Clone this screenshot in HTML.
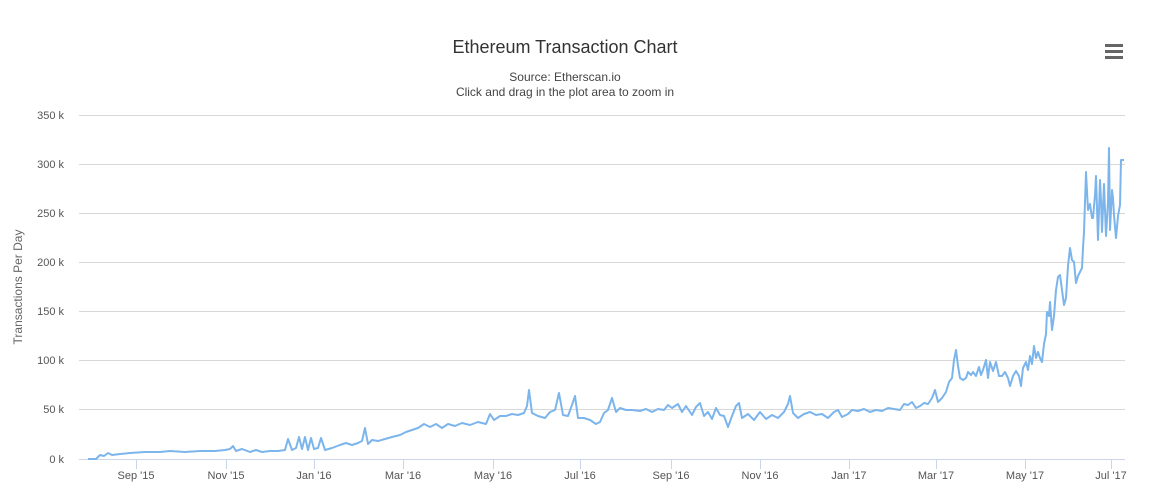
<!DOCTYPE html>
<html><head><style>
body{margin:0;background:#fff;font-family:"Liberation Sans",sans-serif;}
</style></head><body>
<svg width="1159" height="499" xmlns="http://www.w3.org/2000/svg" font-family="Liberation Sans, sans-serif">
<rect width="1159" height="499" fill="#fff"/>
<text x="565" y="53" text-anchor="middle" font-size="18" fill="#333">Ethereum Transaction Chart</text>
<text x="565" y="81" text-anchor="middle" font-size="12" fill="#444">Source: Etherscan.io</text>
<text x="565" y="96" text-anchor="middle" font-size="12" fill="#444">Click and drag in the plot area to zoom in</text>
<g fill="#666"><rect x="1105" y="44" width="18" height="3"/><rect x="1105" y="50" width="18" height="3"/><rect x="1105" y="56" width="18" height="3"/></g>
<g stroke="#d8d8d8" stroke-width="1">
<line x1="79" x2="1125" y1="115.5" y2="115.5"/><line x1="79" x2="1125" y1="164.5" y2="164.5"/>
<line x1="79" x2="1125" y1="213.5" y2="213.5"/><line x1="79" x2="1125" y1="262.5" y2="262.5"/>
<line x1="79" x2="1125" y1="311.5" y2="311.5"/><line x1="79" x2="1125" y1="360.5" y2="360.5"/>
<line x1="79" x2="1125" y1="409.5" y2="409.5"/>
</g>
<line x1="79" x2="1125" y1="459.5" y2="459.5" stroke="#ccd6eb"/>
<g stroke="#ccd6eb"><line x1="136.5" x2="136.5" y1="459" y2="469"/><line x1="226.5" x2="226.5" y1="459" y2="469"/><line x1="314.5" x2="314.5" y1="459" y2="469"/><line x1="403.5" x2="403.5" y1="459" y2="469"/><line x1="493.5" x2="493.5" y1="459" y2="469"/><line x1="580.5" x2="580.5" y1="459" y2="469"/><line x1="671.5" x2="671.5" y1="459" y2="469"/><line x1="760.5" x2="760.5" y1="459" y2="469"/><line x1="849.5" x2="849.5" y1="459" y2="469"/><line x1="936.5" x2="936.5" y1="459" y2="469"/><line x1="1025.5" x2="1025.5" y1="459" y2="469"/><line x1="1111.5" x2="1111.5" y1="459" y2="469"/></g>
<g font-size="11" fill="#555" text-anchor="end">
<text x="64" y="119">350 k</text><text x="64" y="168">300 k</text><text x="64" y="217">250 k</text><text x="64" y="266">200 k</text><text x="64" y="315">150 k</text><text x="64" y="364">100 k</text><text x="64" y="413">50 k</text><text x="64" y="463">0 k</text>
</g>
<g font-size="11" fill="#555" text-anchor="middle">
<text x="136" y="479">Sep '15</text><text x="226" y="479">Nov '15</text><text x="314" y="479">Jan '16</text><text x="403" y="479">Mar '16</text><text x="493" y="479">May '16</text><text x="580" y="479">Jul '16</text><text x="671" y="479">Sep '16</text><text x="760" y="479">Nov '16</text><text x="849" y="479">Jan '17</text><text x="936" y="479">Mar '17</text><text x="1025" y="479">May '17</text><text x="1111" y="479">Jul '17</text>
</g>
<text transform="translate(22,287) rotate(-90)" text-anchor="middle" font-size="12" fill="#666">Transactions Per Day</text>
<polyline fill="none" stroke="#7cb5ec" stroke-width="2" stroke-linejoin="round" points="88,459 96,459 100,455 104,456 108,453 112,455 120,454 130,453 145,452 160,452 170,451 185,452 200,451 215,451 225,450 230,449 233,446 236,451 242,449 250,452 256,450 262,452 270,451 278,451 285,450 288,439 292,450 296,448 299,437 302,449 305,437 308,450 311,438 314,449 318,448 321,438 325,450 332,448 340,445 346,443 352,445 358,443 362,441 365,428 368,444 372,440 378,441 385,439 392,437 400,435 406,432 412,430 418,428 424,424 430,427 436,424 442,428 448,424 455,426 462,423 470,425 478,422 486,424 490,414 494,420 500,416 506,416 512,414 518,415 524,413 527,406 529,390 532,413 538,416 545,418 550,412 555,410 559,393 563,415 568,416 572,405 575,396 578,418 584,418 590,420 596,424 600,422 604,413 608,410 612,398 616,412 620,408 626,410 632,410 640,411 646,409 652,412 658,409 664,410 668,405 672,408 678,404 682,412 686,406 692,415 696,407 700,403 704,416 708,412 712,419 716,408 720,415 724,416 728,427 732,416 736,406 739,403 742,418 748,414 754,420 760,412 766,419 772,415 778,418 784,412 788,404 790,396 793,413 798,418 804,414 810,412 816,415 822,414 828,418 834,412 838,410 842,417 848,414 852,410 858,411 864,409 870,412 876,410 882,411 888,408 894,409 900,410 904,404 908,405 912,402 916,408 920,406 924,403 928,404 932,398 935,390 938,402 942,398 946,392 949,382 952,378 954,360 956,350 958,366 960,378 963,380 966,378 968,372 971,375 973,372 976,376 979,367 981,375 983,370 986,360 988,378 990,362 993,371 996,362 999,376 1002,376 1005,372 1008,378 1010,386 1013,376 1016,371 1019,376 1021,386 1023,368 1026,362 1028,370 1030,356 1032,364 1034,346 1036,358 1038,352 1040,358 1042,362 1044,344 1046,334 1047,312 1049,316 1050,302 1052,330 1054,316 1056,290 1058,277 1060,275 1062,290 1064,305 1066,298 1068,266 1070,248 1072,260 1074,262 1076,283 1078,276 1080,272 1082,268 1083,248 1084,232 1086,172 1088,210 1090,204 1092,218 1093,218 1095,195 1096,176 1098,240 1100,180 1101,200 1102,232 1104,184 1106,236 1108,202 1109,148 1110,230 1112,190 1113,198 1114,215 1116,238 1118,216 1120,205 1121,160 1124,160"/>
</svg>
</body></html>
